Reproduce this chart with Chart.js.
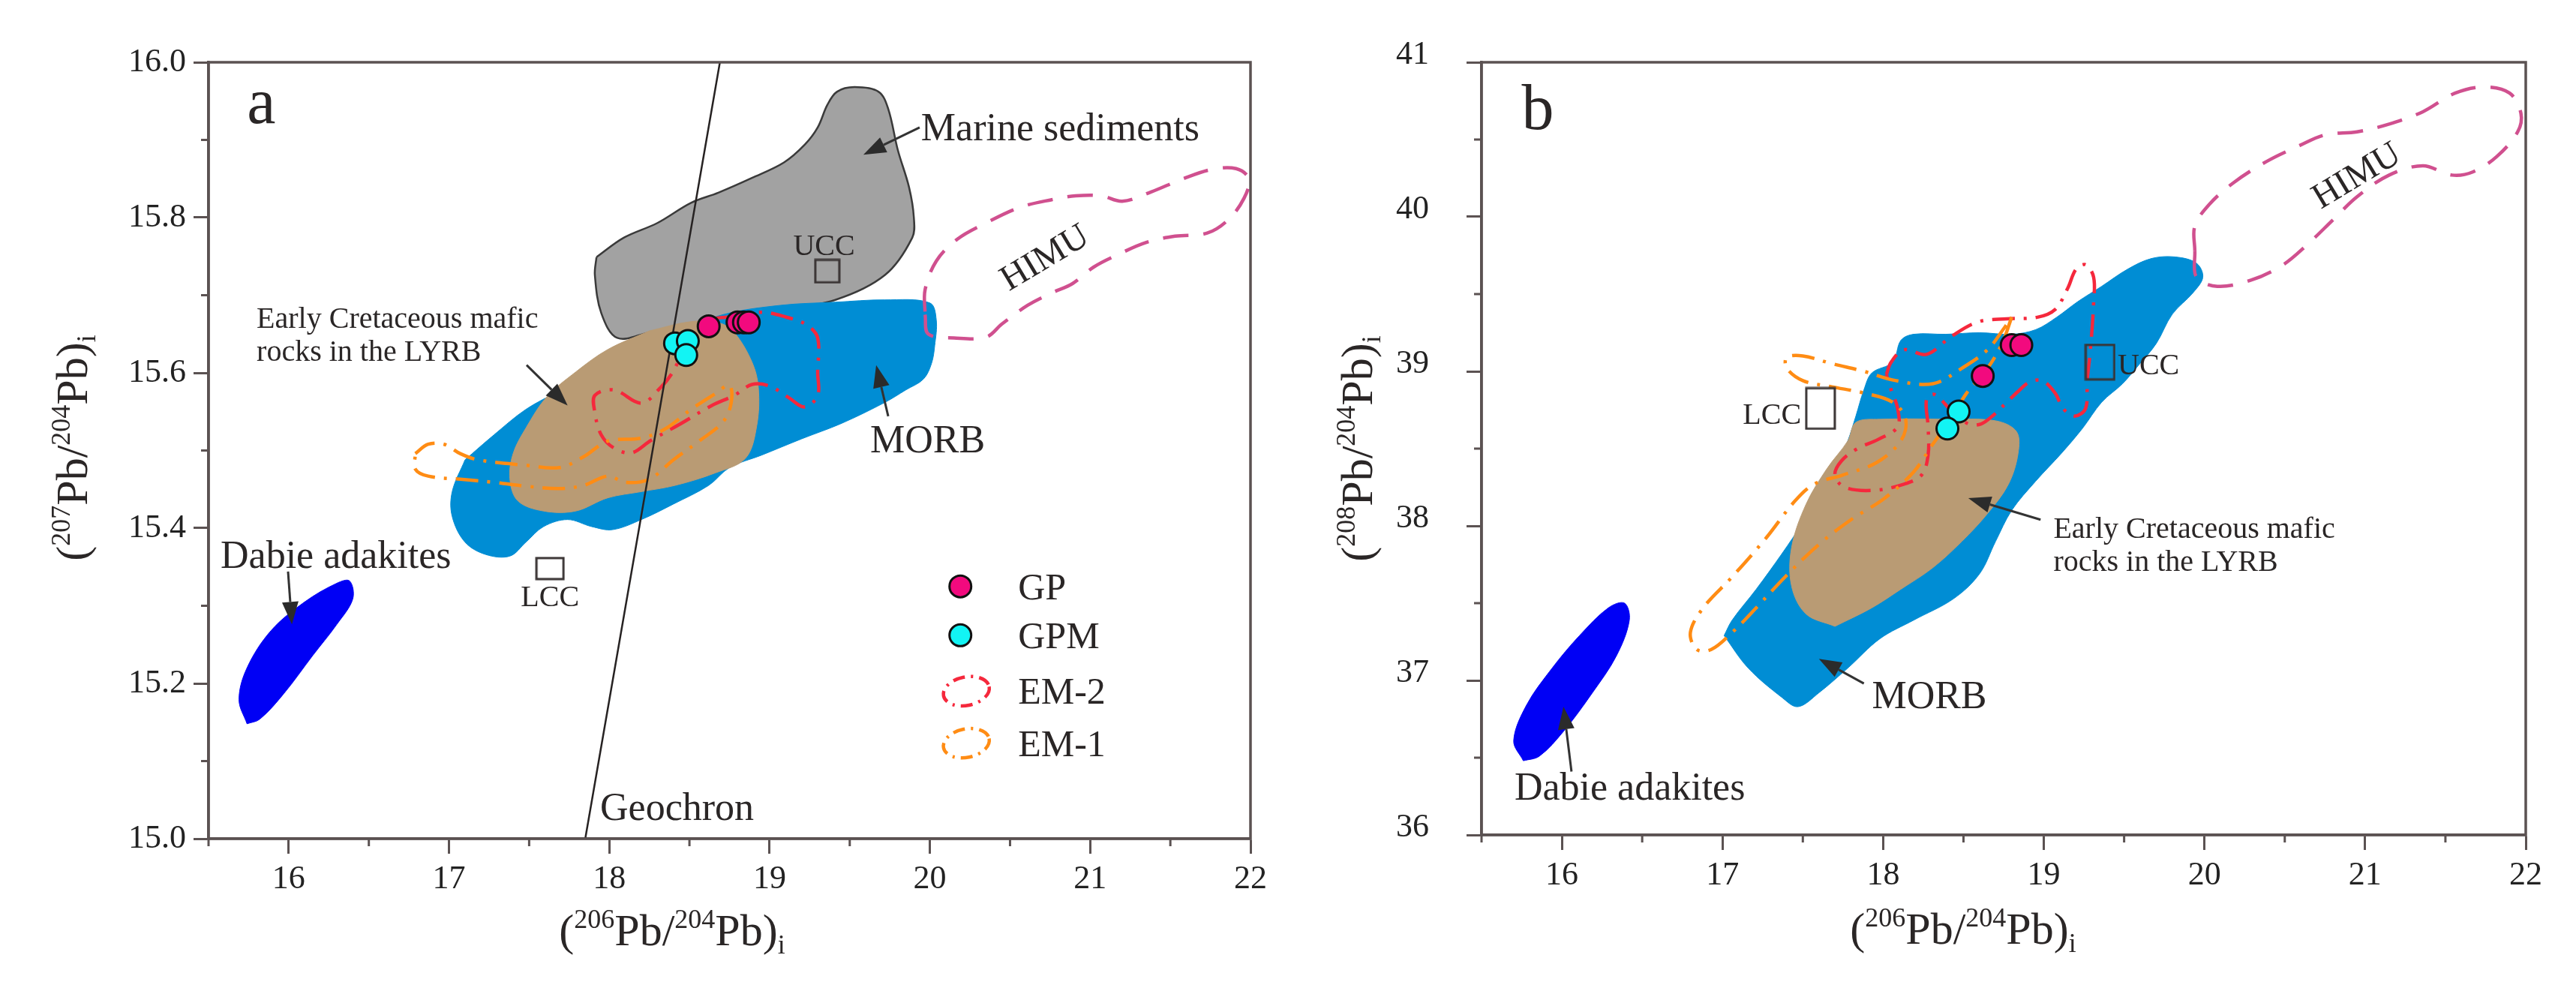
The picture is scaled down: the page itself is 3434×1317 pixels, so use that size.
<!DOCTYPE html>
<html>
<head>
<meta charset="utf-8">
<script src="https://cdn.jsdelivr.net/npm/chart.js@4.4.0/dist/chart.umd.min.js"></script>
<style>
  html, body { margin: 0; padding: 0; background: #fff; }
  #wrap { position: relative; width: 3434px; height: 1317px; overflow: hidden; }
  .panel { position: absolute; top: 0; width: 1717px; height: 1317px; }
</style>
</head>
<body>
<div id="wrap">
  <div class="panel" style="left:0"><canvas id="chartA" width="1717" height="1317"></canvas></div>
  <div class="panel" style="left:1717px"><canvas id="chartB" width="1717" height="1317"></canvas></div>
</div>
<script>
// ---- values ----
const xRange = [15.5, 22];
const yRangeA = [15.0, 16.0];
const yRangeB = [36, 41];

// panel a: (207Pb/204Pb)i vs (206Pb/204Pb)i
const gpA = [[18.62, 15.660], [18.80, 15.665], [18.84, 15.665], [18.87, 15.665]];
const gpmA = [[18.41, 15.638], [18.49, 15.641], [18.48, 15.623]];
const uccA = [[19.36, 15.731]];
const lccA = [[17.63, 15.348]];
const geochronA = [[18.69, 16.0], [17.85, 15.0]];
const marineA = [[17.92, 15.749], [18.09, 15.774], [18.30, 15.793], [18.51, 15.819], [18.68, 15.832], [18.89, 15.851],
  [19.09, 15.871], [19.22, 15.894], [19.30, 15.916], [19.36, 15.945], [19.42, 15.962], [19.53, 15.968], [19.68, 15.962],
  [19.74, 15.94], [19.80, 15.887], [19.87, 15.839], [19.90, 15.80], [19.89, 15.774], [19.72, 15.726], [19.41, 15.694],
  [19.0, 15.678], [18.6, 15.665], [18.25, 15.652], [18.05, 15.645], [17.95, 15.677], [17.91, 15.726]];
const morbA = [[17.10, 15.488], [17.28, 15.520], [17.48, 15.553], [17.69, 15.577], [18.05, 15.618], [18.40, 15.650],
  [18.71, 15.675], [19.07, 15.687], [19.41, 15.691], [19.72, 15.694], [20.0, 15.690], [20.04, 15.668], [20.03, 15.635],
  [20.01, 15.612], [19.96, 15.592], [19.85, 15.578], [19.72, 15.562], [19.45, 15.535], [19.2, 15.515], [18.95, 15.494],
  [18.75, 15.478], [18.62, 15.455], [18.40, 15.431], [18.20, 15.411], [18.02, 15.398], [17.89, 15.402], [17.74, 15.411],
  [17.59, 15.402], [17.48, 15.382], [17.38, 15.364], [17.23, 15.366], [17.10, 15.382], [17.02, 15.415], [17.02, 15.447]];
const lyrbA = [[18.25, 15.654], [18.51, 15.666], [18.69, 15.664], [18.78, 15.652], [18.89, 15.614], [18.93, 15.581],
  [18.92, 15.532], [18.85, 15.49], [18.66, 15.471], [18.41, 15.455], [18.20, 15.447], [17.99, 15.439], [17.79, 15.422],
  [17.59, 15.422], [17.43, 15.435], [17.38, 15.463], [17.40, 15.496], [17.48, 15.529], [17.61, 15.569], [17.79, 15.601],
  [17.99, 15.630]];
const dabieA = [[15.74, 15.148], [15.69, 15.179], [15.74, 15.220], [15.89, 15.268], [16.10, 15.305], [16.30, 15.329],
  [16.38, 15.332], [16.40, 15.309], [16.30, 15.276], [16.15, 15.236], [15.97, 15.187], [15.82, 15.154]];
const himuA = [[19.97, 15.675], [19.99, 15.650], [20.15, 15.645], [20.35, 15.646], [20.45, 15.663], [20.61, 15.687],
  [20.76, 15.703], [20.89, 15.715], [21.02, 15.736], [21.17, 15.752], [21.35, 15.768], [21.53, 15.776], [21.73, 15.780],
  [21.86, 15.797], [21.96, 15.825], [21.99, 15.850], [21.91, 15.863], [21.76, 15.862], [21.58, 15.850], [21.38, 15.833],
  [21.20, 15.821], [21.07, 15.828], [20.91, 15.828], [20.76, 15.823], [20.56, 15.813], [20.35, 15.793], [20.17, 15.772],
  [20.04, 15.744], [19.97, 15.707]];
const em2A = [[18.74, 15.672], [18.95, 15.678], [19.10, 15.672], [19.23, 15.662], [19.30, 15.645], [19.30, 15.60],
  [19.30, 15.571], [19.22, 15.556], [19.12, 15.568], [19.00, 15.583], [18.89, 15.585], [18.78, 15.571], [18.64, 15.558],
  [18.45, 15.535], [18.26, 15.513], [18.14, 15.497], [18.03, 15.503], [17.95, 15.520], [17.91, 15.549], [17.91, 15.571],
  [18.03, 15.578], [18.20, 15.561], [18.32, 15.581], [18.39, 15.599], [18.47, 15.629], [18.64, 15.668]];
const em1A = [[16.79, 15.496], [16.87, 15.508], [16.97, 15.508], [17.07, 15.496], [17.18, 15.488], [17.48, 15.481],
  [17.69, 15.478], [17.84, 15.492], [17.99, 15.512], [18.20, 15.516], [18.35, 15.528], [18.51, 15.553], [18.66, 15.573],
  [18.75, 15.584], [18.76, 15.561], [18.71, 15.537], [18.56, 15.512], [18.40, 15.488], [18.25, 15.463], [18.10, 15.459],
  [17.99, 15.467], [17.84, 15.455], [17.69, 15.451], [17.48, 15.454], [17.28, 15.459], [17.07, 15.463], [16.87, 15.467],
  [16.79, 15.476]];

// panel b: (208Pb/204Pb)i vs (206Pb/204Pb)i
const gpB = [[18.62, 38.97], [18.80, 39.17], [18.86, 39.17]];
const gpmB = [[18.47, 38.74], [18.40, 38.63]];
const uccB = [[19.35, 39.06]];
const lccB = [[17.61, 38.76]];
const morbB = [[17.01, 37.29], [17.16, 37.08], [17.37, 36.89], [17.47, 36.83], [17.60, 36.92], [17.78, 37.08],
  [17.98, 37.27], [18.19, 37.39], [18.44, 37.53], [18.60, 37.69], [18.70, 37.90], [18.80, 38.10], [18.95, 38.29],
  [19.11, 38.47], [19.24, 38.63], [19.36, 38.80], [19.49, 38.92], [19.59, 39.04], [19.70, 39.18], [19.80, 39.37],
  [19.93, 39.51], [19.99, 39.61], [19.95, 39.70], [19.82, 39.74], [19.67, 39.73], [19.52, 39.66], [19.36, 39.55],
  [19.21, 39.45], [19.08, 39.35], [18.95, 39.27], [18.80, 39.24], [18.60, 39.25], [18.39, 39.24], [18.19, 39.24],
  [18.11, 39.20], [18.06, 39.06], [17.93, 38.99], [17.88, 38.88], [17.83, 38.71], [17.78, 38.55], [17.70, 38.35],
  [17.60, 38.18], [17.50, 38.02], [17.37, 37.82], [17.21, 37.59], [17.06, 37.39]];
const lyrbB = [[17.70, 37.35], [17.52, 37.43], [17.43, 37.61], [17.43, 37.86], [17.52, 38.14], [17.65, 38.37],
  [17.78, 38.55], [17.83, 38.67], [17.98, 38.69], [18.39, 38.69], [18.70, 38.68], [18.83, 38.61], [18.84, 38.47],
  [18.78, 38.27], [18.65, 38.08], [18.49, 37.90], [18.31, 37.73], [18.11, 37.59], [17.93, 37.47]];
const dabieB = [[15.76, 36.48], [15.70, 36.61], [15.78, 36.84], [15.94, 37.08], [16.11, 37.29], [16.29, 37.47],
  [16.39, 37.50], [16.42, 37.39], [16.34, 37.16], [16.19, 36.92], [16.01, 36.67], [15.86, 36.51]];
const himuB = [[19.94, 39.78], [19.95, 39.61], [20.08, 39.55], [20.29, 39.59], [20.49, 39.69], [20.64, 39.82],
  [20.80, 39.98], [20.95, 40.13], [21.15, 40.27], [21.36, 40.33], [21.54, 40.27], [21.67, 40.29], [21.82, 40.39],
  [21.95, 40.55], [21.97, 40.67], [21.90, 40.80], [21.74, 40.84], [21.56, 40.80], [21.36, 40.68], [21.15, 40.60],
  [20.95, 40.55], [20.75, 40.53], [20.59, 40.46], [20.39, 40.36], [20.18, 40.22], [20.03, 40.08], [19.94, 39.94]];
const em2B = [[18.02, 38.98], [18.05, 39.06], [18.13, 39.14], [18.27, 39.11], [18.43, 39.23], [18.59, 39.32],
  [18.77, 39.34], [18.96, 39.35], [19.07, 39.40], [19.15, 39.54], [19.20, 39.66], [19.26, 39.69], [19.31, 39.61],
  [19.31, 39.44], [19.29, 39.14], [19.27, 38.94], [19.26, 38.76], [19.19, 38.71], [19.12, 38.76], [19.07, 38.86],
  [18.99, 38.94], [18.91, 38.93], [18.84, 38.87], [18.77, 38.80], [18.69, 38.72], [18.61, 38.66], [18.53, 38.66],
  [18.43, 38.74], [18.32, 38.85], [18.27, 38.82], [18.28, 38.64], [18.28, 38.46], [18.24, 38.33], [18.13, 38.27],
  [17.94, 38.23], [17.76, 38.25], [17.70, 38.33], [17.74, 38.42], [17.84, 38.50], [17.97, 38.56], [18.09, 38.64],
  [18.09, 38.76], [18.05, 38.88]];
const em1B = [[18.80, 39.35], [18.74, 39.18], [18.65, 39.02], [18.52, 38.86], [18.42, 38.69], [18.31, 38.53],
  [18.19, 38.35], [18.01, 38.18], [17.80, 38.04], [17.60, 37.88], [17.39, 37.67], [17.21, 37.47], [17.06, 37.31],
  [16.93, 37.20], [16.84, 37.20], [16.80, 37.31], [16.88, 37.47], [17.06, 37.67], [17.27, 37.92], [17.45, 38.16],
  [17.57, 38.27], [17.75, 38.33], [17.96, 38.41], [18.11, 38.55], [18.14, 38.69], [18.06, 38.80], [17.88, 38.86],
  [17.68, 38.90], [17.50, 38.94], [17.40, 39.02], [17.40, 39.09], [17.50, 39.10], [17.68, 39.05], [17.88, 39.00],
  [18.08, 38.94], [18.31, 38.92], [18.49, 39.02], [18.65, 39.14], [18.76, 39.29]];

// ---- styling ----
Chart.defaults.font.family = "'Liberation Serif', 'Times New Roman', serif";
Chart.defaults.color = '#222';
const axisColor = '#5b5252';
const clear = 'rgba(0,0,0,0)';
const colors = {
  gp: '#f20a7e', gpm: '#12f4f4', morb: '#008dd4', lyrb: '#b99b74', marine: '#a2a2a2',
  dabie: '#0000f5', himu: '#d0508f', em2: '#f5283c', em1: '#ff8c14'
};
const dashDot = [30, 12, 4, 12];
const isMajor = (v, step) => Math.abs(v / step - Math.round(v / step)) < 1e-6;

const pts = a => a.map(([x, y]) => ({ x, y }));
const ring = a => pts(a.concat([a[0]]));

function patch(data, color, order, edge) {
  return { type: 'line', data: ring(data), order, fill: 'shape', backgroundColor: color,
    borderColor: edge || color, borderWidth: edge ? 2.5 : 1, tension: 0.35, pointRadius: 0 };
}
function outline(data, color, dash, order) {
  return { type: 'line', data: ring(data), order, fill: false, borderColor: color,
    borderWidth: 4.5, borderDash: dash, tension: 0.35, pointRadius: 0 };
}
function dots(data, color, order) {
  return { type: 'scatter', data: pts(data), order, backgroundColor: color,
    borderColor: '#111', borderWidth: 3, pointRadius: 14.5 };
}
function rectImg(w, h) {
  const c = document.createElement('canvas');
  c.width = w + 4; c.height = h + 4;
  const g = c.getContext('2d');
  g.strokeStyle = '#3a3434'; g.lineWidth = 3;
  g.strokeRect(2, 2, w, h);
  return c;
}
function box(data, w, h, order) {
  return { type: 'scatter', data: pts(data), order, pointStyle: rectImg(w, h), pointRadius: 10 };
}

function makeScales(o) {
  return {
    x: {
      type: 'linear', min: xRange[0], max: xRange[1],
      afterFit: s => { s.height = o.xHeight; },
      border: { color: axisColor, width: 3.5 },
      grid: { drawOnChartArea: false, tickLength: 20, tickWidth: 3,
        tickColor: c => (c.tick && isMajor(c.tick.value, 1)) ? axisColor : clear },
      ticks: { stepSize: 0.5, autoSkip: false, maxRotation: 0, padding: 8, font: { size: 44 },
        callback: v => isMajor(v, 1) ? String(Math.round(v)) : '' }
    },
    y: {
      type: 'linear', min: o.yRange[0], max: o.yRange[1],
      afterFit: s => { s.width = o.yWidth; },
      border: { color: axisColor, width: 3.5 },
      grid: { drawOnChartArea: false, tickLength: 20, tickWidth: 3,
        tickColor: c => (c.tick && isMajor(c.tick.value, o.yMajor)) ? axisColor : clear },
      ticks: { stepSize: o.yMajor / 2, autoSkip: false, padding: o.yPad, labelOffset: o.yShift,
        font: { size: 44 }, callback: v => isMajor(v, o.yMajor) ? v.toFixed(o.yDigits) : '' }
    }
  };
}

// minor ticks and the closed frame
const frame = {
  id: 'frame',
  afterDraw(chart, args, opts) {
    const ctx = chart.ctx, a = chart.chartArea, xs = chart.scales.x, ys = chart.scales.y;
    ctx.save();
    ctx.strokeStyle = axisColor; ctx.lineWidth = 3.5;
    ctx.strokeRect(a.left, a.top, a.right - a.left, a.bottom - a.top);
    ctx.lineWidth = 3;
    ctx.beginPath();
    xs.ticks.forEach(t => {
      if (isMajor(t.value, 1)) return;
      const px = xs.getPixelForValue(t.value);
      ctx.moveTo(px, a.bottom); ctx.lineTo(px, a.bottom + 10);
    });
    ys.ticks.forEach(t => {
      if (isMajor(t.value, opts.yMajor)) return;
      const py = ys.getPixelForValue(t.value);
      ctx.moveTo(a.left, py); ctx.lineTo(a.left - 10, py);
    });
    ctx.stroke();
    ctx.restore();
  }
};

function richText(ctx, parts, size, x, y) {
  const fam = Chart.defaults.font.family;
  const seg = parts.map(([t, k]) => ({ t, k, f: (k ? size * 0.6 : size) + 'px ' + fam }));
  let w = 0;
  seg.forEach(s => { ctx.font = s.f; s.w = ctx.measureText(s.t).width; w += s.w; });
  let cx = x - w / 2;
  ctx.textAlign = 'left'; ctx.textBaseline = 'alphabetic';
  seg.forEach(s => {
    ctx.font = s.f;
    const dy = s.k === 'sup' ? -size * 0.38 : s.k === 'sub' ? size * 0.18 : 0;
    ctx.fillText(s.t, cx, y + dy);
    cx += s.w;
  });
}

function drawArrow(ctx, p, q) {
  const ang = Math.atan2(q[1] - p[1], q[0] - p[0]);
  const len = 30, half = 11;
  const bx = q[0] - len * Math.cos(ang), by = q[1] - len * Math.sin(ang);
  ctx.strokeStyle = '#333'; ctx.fillStyle = '#2b2b2b'; ctx.lineWidth = 3;
  ctx.beginPath(); ctx.moveTo(p[0], p[1]); ctx.lineTo(bx, by); ctx.stroke();
  ctx.beginPath();
  ctx.moveTo(q[0], q[1]);
  ctx.lineTo(bx + half * Math.sin(ang), by - half * Math.cos(ang));
  ctx.lineTo(bx - half * Math.sin(ang), by + half * Math.cos(ang));
  ctx.closePath(); ctx.fill();
}

const notes = {
  id: 'notes',
  afterDatasetsDraw(chart, args, opts) {
    const ctx = chart.ctx, xs = chart.scales.x, ys = chart.scales.y;
    const P = (x, y) => [xs.getPixelForValue(x), ys.getPixelForValue(y)];
    const fam = Chart.defaults.font.family;
    ctx.save();
    (opts.arrows || []).forEach(a => drawArrow(ctx, P(a[0], a[1]), P(a[2], a[3])));
    (opts.texts || []).forEach(t => {
      const [px, py] = P(t.x, t.y);
      ctx.save();
      ctx.translate(px, py);
      if (t.rot) ctx.rotate(t.rot * Math.PI / 180);
      ctx.font = t.size + 'px ' + fam;
      ctx.fillStyle = t.color || '#2a2626';
      ctx.textAlign = t.align || 'left';
      ctx.textBaseline = t.base || 'alphabetic';
      ctx.fillText(t.t, 0, 0);
      ctx.restore();
    });
    (opts.legend || []).forEach(l => {
      const [px, py] = P(l.x, l.y);
      if (l.kind === 'dot') {
        ctx.beginPath(); ctx.arc(px, py, 14.5, 0, Math.PI * 2);
        ctx.fillStyle = l.color; ctx.fill();
        ctx.lineWidth = 3; ctx.strokeStyle = '#111'; ctx.stroke();
      } else {
        ctx.save();
        ctx.setLineDash([16, 8, 3, 8]);
        ctx.lineWidth = 4.5; ctx.strokeStyle = l.color;
        ctx.beginPath(); ctx.ellipse(px + 8, py, 31, 19, -0.2, 0, Math.PI * 2); ctx.stroke();
        ctx.restore();
      }
      ctx.font = '50px ' + fam; ctx.fillStyle = '#2a2626';
      ctx.textAlign = 'left'; ctx.textBaseline = 'alphabetic';
      ctx.fillText(l.t, px + 77, py + 17);
    });
    ctx.restore();
  },
  afterDraw(chart, args, opts) {
    const ctx = chart.ctx;
    ctx.save();
    ctx.fillStyle = '#2a2626';
    const tx = opts.xTitle, ty = opts.yTitle;
    richText(ctx, tx.parts, 60, tx.x, tx.y);
    ctx.translate(ty.x, ty.y);
    ctx.rotate(-Math.PI / 2);
    richText(ctx, ty.parts, 60, 0, 0);
    ctx.restore();
  }
};

const title206 = [['('], ['206', 'sup'], ['Pb/'], ['204', 'sup'], ['Pb)'], ['i', 'sub']];

function build(id, datasets, scaleOpts, pad, noteOpts) {
  return new Chart(document.getElementById(id), {
    type: 'scatter',
    data: { datasets },
    options: {
      responsive: false, animation: false, events: [],
      layout: { padding: pad },
      scales: makeScales(scaleOpts),
      plugins: { legend: { display: false }, tooltip: { enabled: false },
        frame: { yMajor: scaleOpts.yMajor }, notes: noteOpts }
    },
    plugins: [frame, notes]
  });
}

function drawAll() {
  // ---- panel a ----
  build('chartA', [
    dots(gpA, colors.gp, 0),
    dots(gpmA, colors.gpm, 1),
    box(uccA, 32, 30, 2),
    box(lccA, 36, 28, 2),
    { type: 'line', data: pts(geochronA), order: 3, borderColor: '#262222', borderWidth: 2.5, pointRadius: 0, fill: false },
    outline(em1A, colors.em1, dashDot, 4),
    outline(em2A, colors.em2, dashDot, 5),
    outline(himuA, colors.himu, [34, 20], 6),
    patch(dabieA, colors.dabie, 7),
    patch(lyrbA, colors.lyrb, 8),
    patch(morbA, colors.morb, 9),
    patch(marineA, colors.marine, 10, '#3a3a3a')
  ], { yRange: yRangeA, yMajor: 0.2, yDigits: 1, yWidth: 278, yPad: 10, yShift: 0, xHeight: 199 },
    { left: 0, top: 83, right: 50, bottom: 0 },
    {
      texts: [
        { t: 'a', x: 15.74, y: 15.922, size: 86 },
        { t: 'Marine sediments', x: 19.945, y: 15.900, size: 52 },
        { t: 'UCC', x: 19.34, y: 15.752, size: 40, align: 'center' },
        { t: 'LCC', x: 17.63, y: 15.300, size: 40, align: 'center' },
        { t: 'MORB', x: 19.627, y: 15.498, size: 52 },
        { t: 'Early Cretaceous mafic', x: 15.80, y: 15.658, size: 40 },
        { t: 'rocks in the LYRB', x: 15.80, y: 15.615, size: 40 },
        { t: 'Dabie adakites', x: 15.575, y: 15.349, size: 52 },
        { t: 'Geochron', x: 17.943, y: 15.024, size: 52 },
        { t: 'HIMU', x: 20.72, y: 15.747, size: 48, align: 'center', base: 'middle', rot: -31 }
      ],
      arrows: [
        [19.936, 15.916, 19.585, 15.881],
        [19.74, 15.544, 19.665, 15.610],
        [17.484, 15.610, 17.74, 15.558],
        [15.996, 15.344, 16.02, 15.276]
      ],
      legend: [
        { kind: 'dot', t: 'GP', x: 20.19, y: 15.325, color: colors.gp },
        { kind: 'dot', t: 'GPM', x: 20.19, y: 15.262, color: colors.gpm },
        { kind: 'ring', t: 'EM-2', x: 20.19, y: 15.190, color: colors.em2 },
        { kind: 'ring', t: 'EM-1', x: 20.19, y: 15.123, color: colors.em1 }
      ],
      xTitle: { parts: title206, x: 896, y: 1260 },
      yTitle: { parts: [['('], ['207', 'sup'], ['Pb/'], ['204', 'sup'], ['Pb)'], ['i', 'sub']], x: 116, y: 597 }
    });

  // ---- panel b ----
  build('chartB', [
    dots(gpB, colors.gp, 0),
    dots(gpmB, colors.gpm, 1),
    box(uccB, 38, 46, 2),
    box(lccB, 38, 54, 2),
    outline(em1B, colors.em1, dashDot, 4),
    outline(em2B, colors.em2, dashDot, 5),
    outline(himuB, colors.himu, [34, 20], 6),
    patch(dabieB, colors.dabie, 7),
    patch(lyrbB, colors.lyrb, 8),
    patch(morbB, colors.morb, 9)
  ], { yRange: yRangeB, yMajor: 1, yDigits: 0, yWidth: 258, yPad: 50, yShift: -10, xHeight: 204 },
    { left: 0, top: 83, right: 67, bottom: 0 },
    {
      texts: [
        { t: 'b', x: 15.75, y: 40.57, size: 86 },
        { t: 'UCC', x: 19.46, y: 38.98, size: 40 },
        { t: 'LCC', x: 17.49, y: 38.66, size: 40, align: 'right' },
        { t: 'Early Cretaceous mafic', x: 19.06, y: 37.92, size: 40 },
        { t: 'rocks in the LYRB', x: 19.06, y: 37.71, size: 40 },
        { t: 'MORB', x: 17.93, y: 36.82, size: 52 },
        { t: 'Dabie adakites', x: 15.705, y: 36.23, size: 52 },
        { t: 'HIMU', x: 20.95, y: 40.26, size: 48, align: 'center', base: 'middle', rot: -31 }
      ],
      arrows: [
        [18.98, 38.04, 18.53, 38.18],
        [17.88, 36.98, 17.60, 37.14],
        [16.06, 36.41, 16.01, 36.83]
      ],
      xTitle: { parts: title206, x: 900, y: 1258 },
      yTitle: { parts: [['('], ['208', 'sup'], ['Pb/'], ['204', 'sup'], ['Pb)'], ['i', 'sub']], x: 112, y: 598 }
    });
}

if (document.fonts && document.fonts.load) {
  document.fonts.load('44px "Liberation Serif"').then(drawAll, drawAll);
} else {
  drawAll();
}
</script>
</body>
</html>
